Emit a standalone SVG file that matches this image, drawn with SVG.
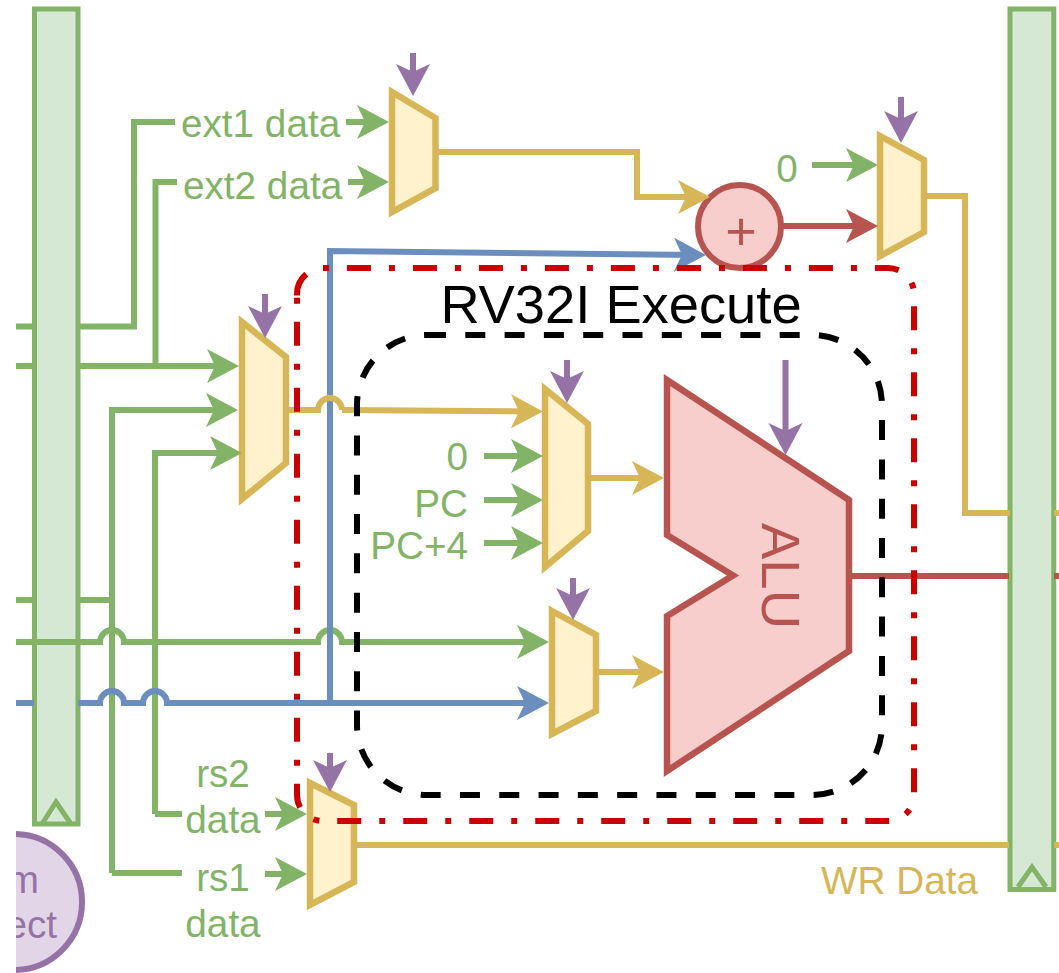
<svg xmlns="http://www.w3.org/2000/svg" width="1059" height="973" viewBox="0 0 1059 973">
<style>
text{font-family:"Liberation Sans",Arial,sans-serif;font-size:38.700px}
.g{fill:#82b366}.y{fill:#d6b656}.p{fill:#9673a6}.r{fill:#b85450}
.reg{fill:#d5e8d4;stroke:#82b366;stroke-width:5}
.mux{fill:#fff2cc;stroke:#d6b656;stroke-width:6.500;stroke-miterlimit:10}
#connectors path{fill:none;stroke-width:6}
.cg{stroke:#82b366}.cy{stroke:#d6b656}.cb{stroke:#6c8ebf}.cr{stroke:#b85450}.cp{stroke:#9673a6}
.mg{marker-end:url(#ag)}.my{marker-end:url(#ay)}.mb{marker-end:url(#ab)}.mr{marker-end:url(#ar)}.mp{marker-end:url(#ap)}
</style>
<defs>
<marker id="ag" markerUnits="userSpaceOnUse" markerWidth="34" markerHeight="36" refX="24" refY="18" orient="auto"><path d="M32 18L0 1L8 18L0 35Z" fill="#82b366"/></marker>
<marker id="ay" markerUnits="userSpaceOnUse" markerWidth="34" markerHeight="36" refX="24" refY="18" orient="auto"><path d="M32 18L0 1L8 18L0 35Z" fill="#d6b656"/></marker>
<marker id="ab" markerUnits="userSpaceOnUse" markerWidth="34" markerHeight="36" refX="24" refY="18" orient="auto"><path d="M32 18L0 1L8 18L0 35Z" fill="#6c8ebf"/></marker>
<marker id="ar" markerUnits="userSpaceOnUse" markerWidth="34" markerHeight="36" refX="24" refY="18" orient="auto"><path d="M32 18L0 1L8 18L0 35Z" fill="#b85450"/></marker>
<marker id="ap" markerUnits="userSpaceOnUse" markerWidth="34" markerHeight="36" refX="24" refY="18" orient="auto"><path d="M32 18L0 1L8 18L0 35Z" fill="#9673a6"/></marker>
<clipPath id="cl"><rect x="16" y="0" width="1043" height="973"/></clipPath>
</defs>
<rect width="1059" height="973" fill="#fff"/>
<g id="reg-left"><rect class="reg" x="34.500" y="9" width="43.500" height="815"/><path d="M42 824L56 802L71 824" fill="none" stroke="#82b366" stroke-width="5"/></g>
<g id="reg-right"><rect class="reg" x="1010" y="9" width="43.800" height="880.500"/><path d="M1018 887L1032 867L1046 887" fill="none" stroke="#82b366" stroke-width="5"/></g>
<g id="sys-connect" clip-path="url(#cl)"><circle cx="14" cy="902" r="68" fill="#e1d5e7" stroke="#9673a6" stroke-width="6"/><text class="p" x="39" y="893" text-anchor="end">m</text><text class="p" x="57" y="938" text-anchor="end">ect</text></g>
<g id="mux-ext"><path class="mux" d="M392 92L435.500 118V188L392 212Z"/></g>
<g id="mux-wb"><path class="mux" d="M880 136L924 160V232L880 256Z"/></g>
<g id="mux-fwd"><path class="mux" d="M242 322L286 357V463L242 499Z"/></g>
<g id="mux-a"><path class="mux" d="M545 389L588 424V531L545 567Z"/></g>
<g id="mux-b"><path class="mux" d="M552 611L596 635V711L552 734Z"/></g>
<g id="mux-rs"><path class="mux" d="M310 783L354 805V882L310 905Z"/></g>
<g id="adder"><circle cx="739.500" cy="226.500" r="41.500" fill="#f8cecc" stroke="#b85450" stroke-width="6"/><text class="r" x="741" y="249.500" text-anchor="middle" style="font-size:54px">+</text></g>
<g id="alu"><path d="M667 380L849 500V651L667 771V616L733 575.500L667 535Z" fill="#f8cecc" stroke="#b85450" stroke-width="6.500" stroke-miterlimit="10"/><text class="r" transform="translate(762 576) rotate(90)" text-anchor="middle" style="font-size:54.500px">ALU</text></g>
<g id="connectors">
<path class="cg" d="M16 326.500H34M78 326.500H134V122H175"/>
<path class="cg" d="M16 366H34M78 366H155.500V182H177"/>
<path class="cg mg" d="M155.500 366H231"/>
<path class="cg mg" d="M112 873V410H230"/>
<path class="cg mg" d="M155 814V453H234"/>
<path class="cg" d="M112 873H182"/>
<path class="cg" d="M155 814H182"/>
<path class="cg" d="M16 600H34M78 600H112"/>
<path class="cg mg" d="M16 642H100A12 12 0 0 1 124 642H318A12 12 0 0 1 342 642H541"/>
<path class="cb mb" d="M16 703H34M78 703H100A12 12 0 0 1 124 703H143A12 12 0 0 1 167 703H541"/>
<path class="cb mb" d="M330 703V251L698 255"/>
<path class="cg mg" d="M346 122H381"/>
<path class="cg mg" d="M348 182H381"/>
<path class="cg mg" d="M812 165H870"/>
<path class="cg mg" d="M484 456H535"/>
<path class="cg mg" d="M484 500H535"/>
<path class="cg mg" d="M484 543H535"/>
<path class="cg mg" d="M265 814H299"/>
<path class="cg mg" d="M265 874H299"/>
<path class="cy" d="M288 410H318A12 12 0 0 1 342 410"/>
<path class="cy my" d="M342 410L535 411.500"/>
<path class="cy my" d="M438 152H637V197H702"/>
<path class="cy my" d="M590 478H656"/>
<path class="cy my" d="M598 672H656"/>
<path class="cy" d="M926 196H965V513H1010M1054 513H1059"/>
<path class="cy" d="M356 845H1009M1054 845H1059"/>
<path class="cr mr" d="M781 226H870"/>
<path class="cr" d="M850 576H1009M1054 576H1059"/>
<path class="cp mp" d="M413 53V88"/>
<path class="cp mp" d="M901 97V135"/>
<path class="cp mp" d="M265 294V330"/>
<path class="cp mp" d="M567 360V395"/>
<path class="cp mp" d="M573 578V612"/>
<path class="cp mp" d="M330 753V784"/>
<path class="cp mp" d="M785.500 360V447"/>
</g>
<g id="box-execute"><path d="M427 335H812A70 70 0 0 1 882 405V725A70 70 0 0 1 812 795H427A70 70 0 0 1 357 725V405A70 70 0 0 1 427 335Z" fill="none" stroke="#000" stroke-width="6" stroke-dasharray="20 19.300" stroke-dashoffset="1"/></g>
<g id="box-rv32i"><path d="M297 295.500V294A26 26 0 0 1 323 268H888A26 26 0 0 1 914 294V795A26 26 0 0 1 888 821H323A26 26 0 0 1 297 795Z" fill="none" stroke="#c00" stroke-width="6" stroke-dasharray="24 18 6 18"/></g>
<g id="labels">
<text class="g" x="181" y="137">ext1 data</text>
<text class="g" x="183" y="199">ext2 data</text>
<text class="g" x="468" y="470" text-anchor="end">0</text>
<text class="g" x="468" y="517" text-anchor="end">PC</text>
<text class="g" x="468" y="559" text-anchor="end">PC+4</text>
<text class="g" x="787" y="182" text-anchor="middle">0</text>
<text class="g" x="223" y="787" text-anchor="middle">rs2</text>
<text class="g" x="223" y="833" text-anchor="middle">data</text>
<text class="g" x="223" y="891" text-anchor="middle">rs1</text>
<text class="g" x="223" y="937" text-anchor="middle">data</text>
<text class="y" x="821" y="894">WR Data</text>
<text x="621" y="323" text-anchor="middle" style="font-size:54.300px;fill:#000">RV32I Execute</text>
</g>
</svg>
